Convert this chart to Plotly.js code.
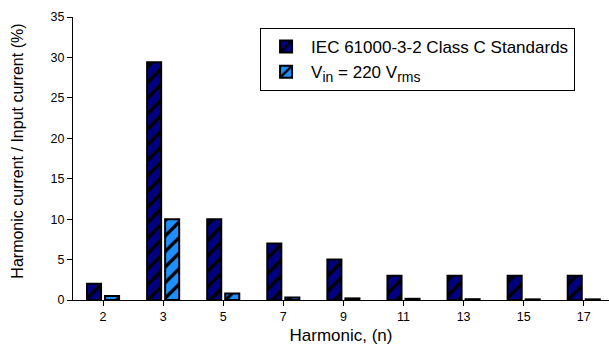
<!DOCTYPE html>
<html>
<head>
<meta charset="utf-8">
<script src="https://cdn.plot.ly/plotly-3.0.1.min.js"></script>
<style>html,body{margin:0;padding:0;background:#fff;}#chart{width:609px;height:351px;}</style>
</head>
<body>
<div id="chart"></div>
<script>
const harmonics = ['2','3','5','7','9','11','13','15','17'];
const iecClassC = [2, 29.4, 10, 7, 5, 3, 3, 3, 3];
const vin220 = [0.5, 10, 0.8, 0.3, 0.2, 0.15, 0.1, 0.08, 0.08];
const yTicks = [0, 5, 10, 15, 20, 25, 30, 35];
const yTitleText = 'Harmonic current / Input current (%)';

function barTrace(y, name, color) {
  return {
    type: 'bar', x: harmonics, y: y, name: name,
    marker: {color: color, line: {color: '#000', width: 2},
      pattern: {shape: '/', fgcolor: '#000', bgcolor: color, size: 11, solidity: 0.3}}
  };
}
const traces = [
  barTrace(iecClassC, 'IEC 61000-3-2 Class C Standards', '#000080'),
  barTrace(vin220, 'V<sub><span style="font-size:14px">in</span></sub> = 220 V<sub><span style="font-size:14px">rms</span></sub>', '#1E8FFF')
];

const layout = {
  width: 609, height: 351,
  margin: {l: 73, r: 0, t: 17, b: 51},
  paper_bgcolor: '#fff', plot_bgcolor: '#fff',
  font: {family: 'Liberation Sans, Arial, sans-serif', color: '#000'},
  barmode: 'group', bargap: 0.4, bargroupgap: 0.22,
  showlegend: true,
  legend: {x: 0.349, y: 0.961, xanchor: 'left', yanchor: 'top',
    bordercolor: '#000', borderwidth: 1, bgcolor: '#fff',
    font: {size: 17, color: '#000'}, tracegroupgap: 0, itemwidth: 40},
  xaxis: {
    type: 'category', range: [-0.5, 8.42],
    showline: true, linecolor: '#000', linewidth: 1,
    ticks: 'outside', ticklen: 5, tickcolor: '#000',
    showgrid: false, zeroline: false,
    tickfont: {size: 12.5},
    title: {text: 'Harmonic, (n)', font: {size: 17}, standoff: 6}
  },
  yaxis: {
    range: [0, 35], tickvals: yTicks,
    showline: true, linecolor: '#000', linewidth: 1,
    ticks: 'outside', ticklen: 5, tickcolor: '#000',
    showgrid: false, zeroline: false,
    tickfont: {size: 12.5}
  },
  annotations: [{
    text: yTitleText, xref: 'paper', yref: 'paper',
    x: -0.103, y: 0.527, xanchor: 'center', yanchor: 'middle',
    textangle: -90, showarrow: false, font: {size: 16, color: '#000'}
  }]
};
Plotly.newPlot('chart', traces, layout, {displayModeBar: false, staticPlot: true});
</script>
</body>
</html>
